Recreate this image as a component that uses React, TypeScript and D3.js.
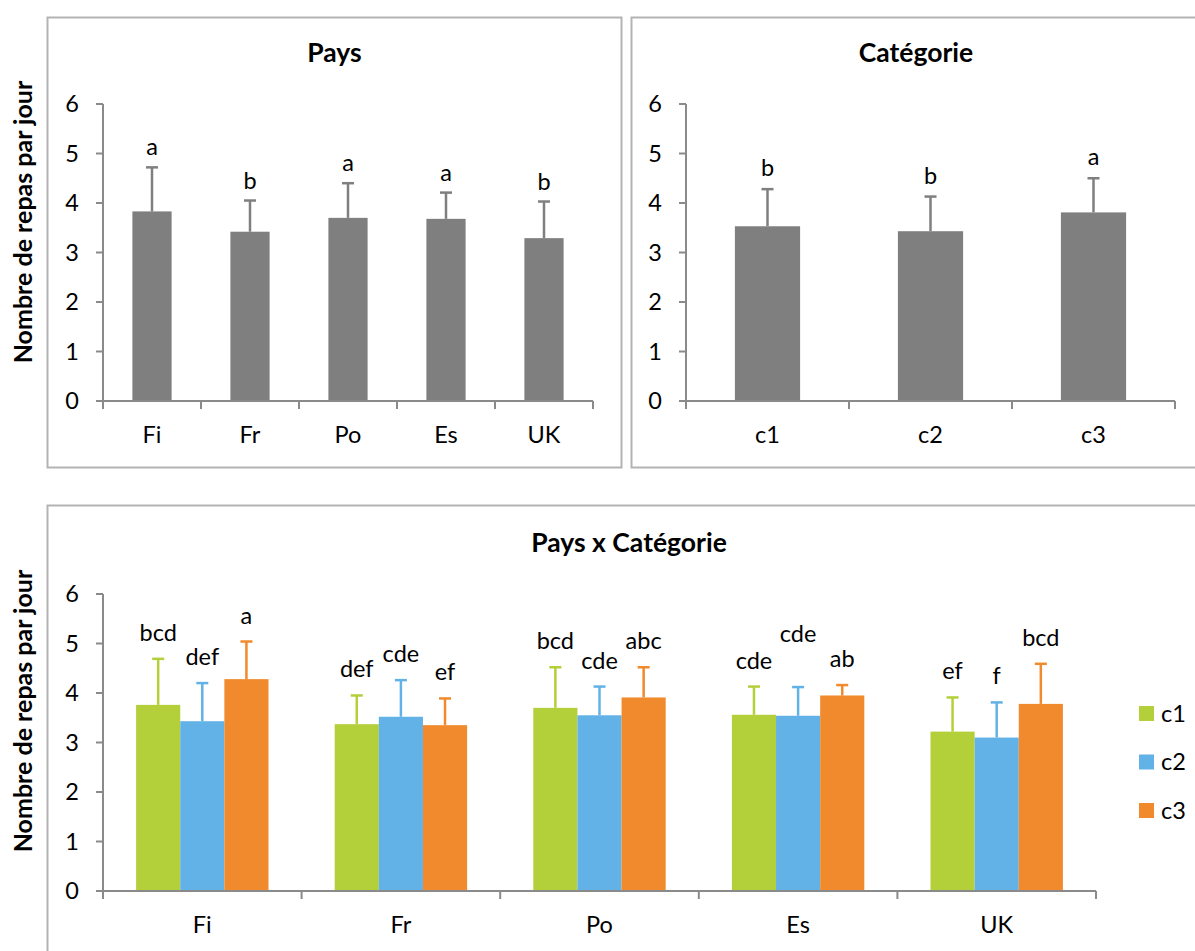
import React from "react";
import * as d3 from "d3";

// ---------- data ----------
const countries = ["Fi", "Fr", "Po", "Es", "UK"];
const countryMeans = [3.83, 3.42, 3.7, 3.68, 3.29];
const countryErr = [0.89, 0.63, 0.7, 0.53, 0.74];
const countryLetters = ["a", "b", "a", "a", "b"];

const categories = ["c1", "c2", "c3"];
const categoryMeans = [3.53, 3.43, 3.81];
const categoryErr = [0.75, 0.7, 0.69];
const categoryLetters = ["b", "b", "a"];

const c1Means = [3.76, 3.37, 3.7, 3.56, 3.22];
const c1Err = [0.93, 0.58, 0.82, 0.57, 0.69];
const c1Letters = ["bcd", "def", "bcd", "cde", "ef"];
const c2Means = [3.43, 3.52, 3.55, 3.54, 3.1];
const c2Err = [0.77, 0.74, 0.58, 0.58, 0.71];
const c2Letters = ["def", "cde", "cde", "cde", "f"];
const c3Means = [4.28, 3.35, 3.91, 3.95, 3.78];
const c3Err = [0.76, 0.54, 0.61, 0.21, 0.81];
const c3Letters = ["a", "ef", "abc", "ab", "bcd"];

const yTicks = [0, 1, 2, 3, 4, 5, 6];

const titles = ["Pays", "Catégorie", "Pays x Catégorie"];
const yTitle = "Nombre de repas par jour";

// ---------- styles ----------
const FONT = "Lato, 'Open Sans', sans-serif";
const AXIS = "#8a8a8a";
const BORDER = "#b3b3b3";
const GRAY = "#7f7f7f";
const SERIES_COLORS = ["#b3cf3a", "#63b2e7", "#f08a2c"];
const TICK_FS = 23.5;
const TITLE_FS = 26.5;
const YTITLE_FS = 25;

type Bar = { x: number; w: number; mean: number; err: number; letter: string; color: string; errColor: string; extraLift?: number };

function Axes({ x0, x1, y, bounds, labelsX, labelY }: { x0: number; x1: number; y: d3.ScaleLinear<number, number>; bounds: number[]; labelsX: { x: number; t: string }[]; labelY: number }) {
  const yb = y(0);
  return (
    <g>
      <line x1={x0} x2={x0} y1={y(6)} y2={yb} stroke={AXIS} strokeWidth={2} />
      <line x1={x0} x2={x1} y1={yb} y2={yb} stroke={AXIS} strokeWidth={2} />
      {yTicks.map((t) => (
        <g key={t}>
          <line x1={x0 - 7} x2={x0} y1={y(t)} y2={y(t)} stroke={AXIS} strokeWidth={2} />
          <text x={x0 - 24} y={y(t)} dy="0.36em" textAnchor="end" fontSize={TICK_FS} fontFamily={FONT} fill="#000">
            {t}
          </text>
        </g>
      ))}
      {bounds.map((b, i) => (
        <line key={i} x1={b} x2={b} y1={yb} y2={yb + 8} stroke={AXIS} strokeWidth={2} />
      ))}
      {labelsX.map((l) => (
        <text key={l.t} x={l.x} y={labelY} textAnchor="middle" fontSize={TICK_FS} fontFamily={FONT} fill="#000">
          {l.t}
        </text>
      ))}
    </g>
  );
}

function Bars({ bars, y, gap }: { bars: Bar[]; y: d3.ScaleLinear<number, number>; gap: number }) {
  return (
    <g>
      {bars.map((b, i) => {
        const cx = b.x + b.w / 2;
        const top = y(b.mean + b.err);
        return (
          <g key={i}>
            <rect x={b.x} y={y(b.mean)} width={b.w} height={y(0) - y(b.mean)} fill={b.color} />
            <line x1={cx} x2={cx} y1={y(b.mean)} y2={top} stroke={b.errColor} strokeWidth={2.5} />
            <line x1={cx - 6} x2={cx + 6} y1={top} y2={top} stroke={b.errColor} strokeWidth={2.5} />
            <text x={cx} y={top - gap - (b.extraLift || 0)} textAnchor="middle" fontSize={TICK_FS} fontFamily={FONT} fill="#000">
              {b.letter}
            </text>
          </g>
        );
      })}
    </g>
  );
}

export default function App() {
  // ---- panel 1: Pays ----
  const y1 = d3.scaleLinear().domain([0, 6]).range([401, 104]);
  const x1 = d3.scaleBand<string>().domain(countries).range([103, 593]).paddingInner(0.6).paddingOuter(0.3);
  const step1 = x1.step();
  const bars1: Bar[] = countries.map((c, i) => ({
    x: x1(c)!, w: x1.bandwidth(), mean: countryMeans[i], err: countryErr[i], letter: countryLetters[i], color: GRAY, errColor: GRAY,
  }));
  const bounds1 = d3.range(countries.length + 1).map((i) => 103 + i * step1);

  // ---- panel 2: Catégorie ----
  const x2 = d3.scaleBand<string>().domain(categories).range([686, 1175]).paddingInner(0.6).paddingOuter(0.3);
  const step2 = x2.step();
  const bars2: Bar[] = categories.map((c, i) => ({
    x: x2(c)!, w: x2.bandwidth(), mean: categoryMeans[i], err: categoryErr[i], letter: categoryLetters[i], color: GRAY, errColor: GRAY,
  }));
  const bounds2 = d3.range(categories.length + 1).map((i) => 686 + i * step2);

  // ---- panel 3: Pays x Catégorie ----
  const y3 = d3.scaleLinear().domain([0, 6]).range([891, 594]);
  const x3 = d3.scaleBand<string>().domain(countries).range([103, 1096]).paddingInner(0).paddingOuter(0);
  const xs = d3.scaleBand<string>().domain(categories).range([0, x3.step()]).paddingInner(0).paddingOuter(0.75);
  const seriesMeans = [c1Means, c2Means, c3Means];
  const seriesErr = [c1Err, c2Err, c3Err];
  const seriesLetters = [c1Letters, c2Letters, c3Letters];
  const bars3: Bar[] = [];
  countries.forEach((c, i) => {
    categories.forEach((s, j) => {
      bars3.push({
        x: x3(c)! + xs(s)!, w: xs.bandwidth(), mean: seriesMeans[j][i], err: seriesErr[j][i], letter: seriesLetters[j][i],
        color: SERIES_COLORS[j], errColor: SERIES_COLORS[j], extraLift: c === "Es" && s === "c2" ? 27 : 0,
      });
    });
  });
  const bounds3 = d3.range(countries.length + 1).map((i) => 103 + i * x3.step());

  return (
    <svg width={1195} height={951} style={{ position: "absolute", left: 0, top: 0, display: "block", background: "#fff" }}>
      <rect x={0} y={0} width={1195} height={951} fill="#fff" />
      {/* panel borders */}
      <rect x={47.5} y={17.5} width={574} height={450} fill="none" stroke={BORDER} strokeWidth={2} />
      <rect x={631.5} y={17.5} width={580} height={450} fill="none" stroke={BORDER} strokeWidth={2} />
      <rect x={47.5} y={505.5} width={1160} height={470} fill="none" stroke={BORDER} strokeWidth={2} />

      {/* titles */}
      <text x={334.5} y={62} textAnchor="middle" fontSize={TITLE_FS} fontWeight="bold" fontFamily={FONT}>{titles[0]}</text>
      <text x={916} y={62} textAnchor="middle" fontSize={TITLE_FS} fontWeight="bold" fontFamily={FONT}>{titles[1]}</text>
      <text x={629} y={552} textAnchor="middle" fontSize={TITLE_FS} fontWeight="bold" fontFamily={FONT}>{titles[2]}</text>

      {/* y titles */}
      <text transform="translate(23,222) rotate(-90)" textAnchor="middle" dy="0.35em" fontSize={YTITLE_FS} fontWeight="bold" fontFamily={FONT}>{yTitle}</text>
      <text transform="translate(23,711) rotate(-90)" textAnchor="middle" dy="0.35em" fontSize={YTITLE_FS} fontWeight="bold" fontFamily={FONT}>{yTitle}</text>

      {/* panel 1 */}
      <Bars bars={bars1} y={y1} gap={12} />
      <Axes x0={103} x1={593} y={y1} bounds={bounds1} labelsX={countries.map((c) => ({ x: x1(c)! + x1.bandwidth() / 2, t: c }))} labelY={443} />

      {/* panel 2 */}
      <Bars bars={bars2} y={y1} gap={13} />
      <Axes x0={686} x1={1175} y={y1} bounds={bounds2} labelsX={categories.map((c) => ({ x: x2(c)! + x2.bandwidth() / 2, t: c }))} labelY={443} />

      {/* panel 3 */}
      <Bars bars={bars3} y={y3} gap={18} />
      <Axes x0={103} x1={1096} y={y3} bounds={bounds3} labelsX={countries.map((c) => ({ x: x3(c)! + x3.step() / 2, t: c }))} labelY={933} />

      {/* legend */}
      {categories.map((c, j) => (
        <g key={c} transform={`translate(1139, ${706 + j * 48.5})`}>
          <rect x={0} y={0} width={15} height={15} fill={SERIES_COLORS[j]} />
          <text x={22} y={7.5} dy="0.36em" fontSize={TICK_FS} fontFamily={FONT}>{c}</text>
        </g>
      ))}
    </svg>
  );
}
